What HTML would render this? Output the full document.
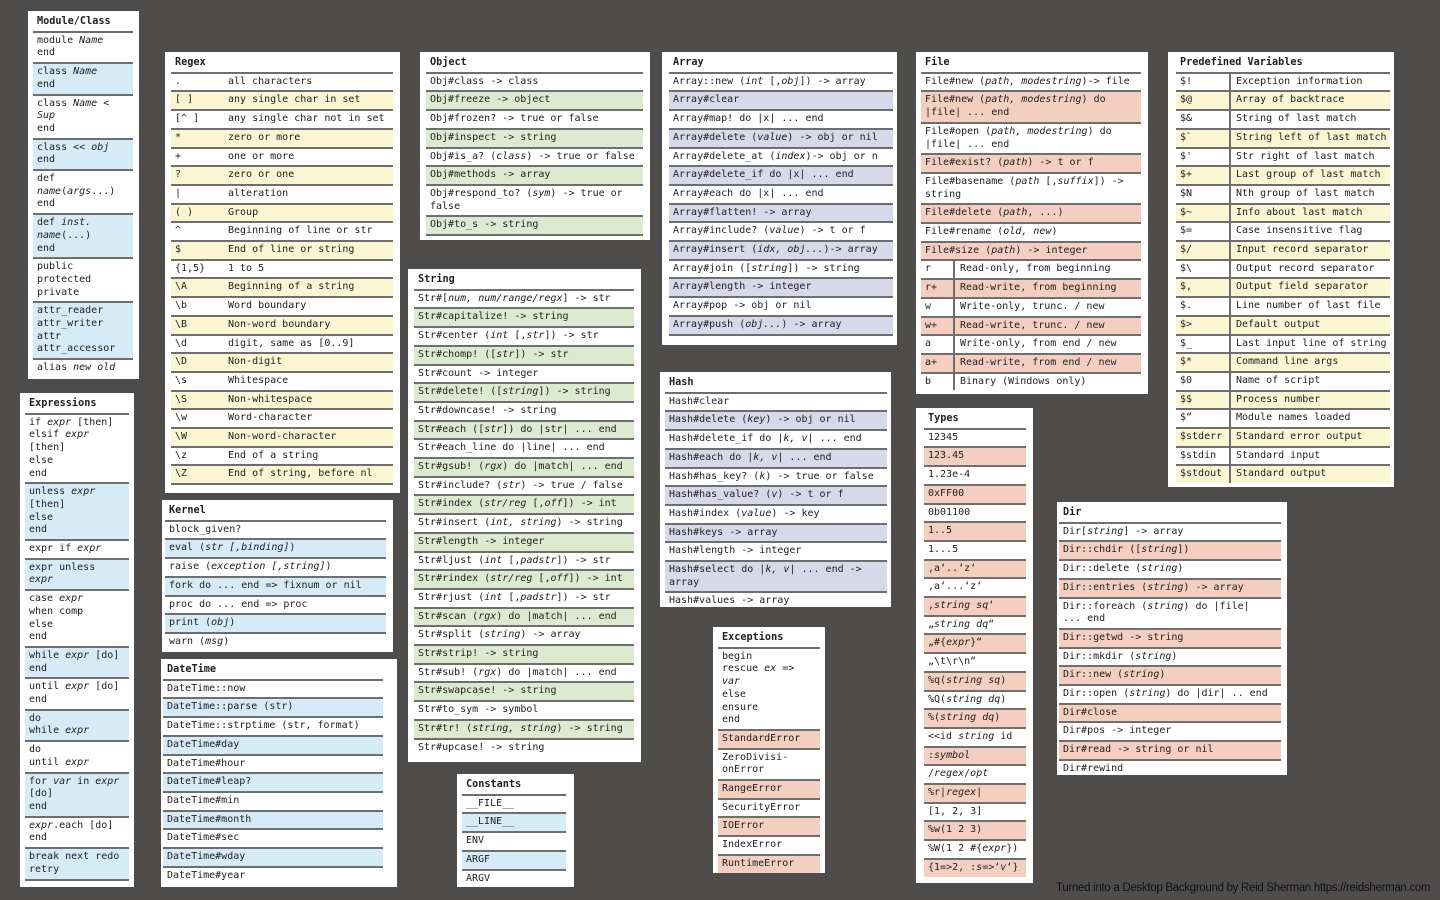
<!DOCTYPE html>
<html><head><meta charset="utf-8"><style>
*{box-sizing:border-box;margin:0;padding:0}
body{width:1440px;height:900px;background:#4f4c4c;position:relative;overflow:hidden;font-family:"DejaVu Sans Mono","Liberation Mono",monospace;font-size:10px;color:#1e1e1e}
.box{position:absolute;background:#fff;padding:0 7px 0 6px;overflow:hidden}
.h{font-weight:bold;padding:5px 4px 2px;line-height:12.7px;border-bottom:2px solid #6e6e6e;font-size:10.2px}
.r{padding:2px 4px 2px;line-height:12.7px;border-bottom:2px solid #6e6e6e;white-space:nowrap;overflow:hidden}
.b{background:#d5ecf8}.y{background:#fbf5d2}.g{background:#dcebd0}.l{background:#d7d8e9}.s{background:#f4cfbf}
.c{display:flex;padding:0}
.c span:first-child{flex:none;padding:2px 4px;border-right:2px solid #6e6e6e}
.c span:last-child{padding:2px 5px}
.nb{border-bottom:none}
.ex .r{line-height:12.7px}
#foot{position:absolute;left:1056px;top:882px;font-family:"Liberation Sans",sans-serif;font-size:11.5px;color:#111;letter-spacing:-0.3px;white-space:nowrap}
</style></head><body>

<div class="box" style="left:28px;top:11px;width:111px;height:368px;padding:0 6px 0 5px">
<div class="h">Module/Class</div>
<div class="r">module <i>Name</i><br>end</div>
<div class="r b">class <i>Name</i><br>end</div>
<div class="r">class <i>Name</i> &lt;<br><i>Sup</i><br>end</div>
<div class="r b">class &lt;&lt; <i>obj</i><br>end</div>
<div class="r">def<br><i>name</i>(<i>args</i>...)<br>end</div>
<div class="r b">def <i>inst.</i><br><i>name</i>(...)<br>end</div>
<div class="r">public<br>protected<br>private</div>
<div class="r b">attr_reader<br>attr_writer<br>attr<br>attr_accessor</div>
<div class="r nb">alias <i>new old</i></div>
</div>

<div class="box ex" style="left:20px;top:393px;width:114px;height:494px;padding:0 5px 0 5px">
<div class="h">Expressions</div>
<div class="r">if <i>expr</i> [then]<br>elsif <i>expr</i><br>[then]<br>else<br>end</div>
<div class="r b">unless <i>expr</i><br>[then]<br>else<br>end</div>
<div class="r">expr if <i>expr</i></div>
<div class="r b">expr unless<br><i>expr</i></div>
<div class="r">case <i>expr</i><br>when comp<br>else<br>end</div>
<div class="r b">while <i>expr</i> [do]<br>end</div>
<div class="r">until <i>expr</i> [do]<br>end</div>
<div class="r b">do<br>while <i>expr</i></div>
<div class="r">do<br>until <i>expr</i></div>
<div class="r b">for <i>var</i> in <i>expr</i><br>[do]<br>end</div>
<div class="r"><i>expr</i>.each [do]<br>end</div>
<div class="r b">break next redo<br>retry</div>
</div>

<div class="box" style="left:165px;top:52px;width:235px;height:441px">
<div class="h">Regex</div>
<div class="r c"><span style="width:52px;border:none">.</span><span>all characters</span></div>
<div class="r c y"><span style="width:52px;border:none">[ ]</span><span>any single char in set</span></div>
<div class="r c"><span style="width:52px;border:none">[^ ]</span><span>any single char not in set</span></div>
<div class="r c y"><span style="width:52px;border:none">*</span><span>zero or more</span></div>
<div class="r c"><span style="width:52px;border:none">+</span><span>one or more</span></div>
<div class="r c y"><span style="width:52px;border:none">?</span><span>zero or one</span></div>
<div class="r c"><span style="width:52px;border:none">|</span><span>alteration</span></div>
<div class="r c y"><span style="width:52px;border:none">( )</span><span>Group</span></div>
<div class="r c"><span style="width:52px;border:none">^</span><span>Beginning of line or str</span></div>
<div class="r c y"><span style="width:52px;border:none">$</span><span>End of line or string</span></div>
<div class="r c"><span style="width:52px;border:none">{1,5}</span><span>1 to 5</span></div>
<div class="r c y"><span style="width:52px;border:none">\A</span><span>Beginning of a string</span></div>
<div class="r c"><span style="width:52px;border:none">\b</span><span>Word boundary</span></div>
<div class="r c y"><span style="width:52px;border:none">\B</span><span>Non-word boundary</span></div>
<div class="r c"><span style="width:52px;border:none">\d</span><span>digit, same as [0..9]</span></div>
<div class="r c y"><span style="width:52px;border:none">\D</span><span>Non-digit</span></div>
<div class="r c"><span style="width:52px;border:none">\s</span><span>Whitespace</span></div>
<div class="r c y"><span style="width:52px;border:none">\S</span><span>Non-whitespace</span></div>
<div class="r c"><span style="width:52px;border:none">\w</span><span>Word-character</span></div>
<div class="r c y"><span style="width:52px;border:none">\W</span><span>Non-word-character</span></div>
<div class="r c"><span style="width:52px;border:none">\z</span><span>End of a string</span></div>
<div class="r c y"><span style="width:52px;border:none">\Z</span><span>End of string, before nl</span></div>
</div>

<div class="box" style="left:162px;top:500px;width:231px;height:152px;padding:0 7px 0 3px">
<div class="h">Kernel</div>
<div class="r">block_given?</div>
<div class="r b">eval (<i>str [,binding]</i>)</div>
<div class="r">raise (<i>exception [,string]</i>)</div>
<div class="r b">fork do ... end =&gt; fixnum or nil</div>
<div class="r">proc do ... end =&gt; proc</div>
<div class="r b">print (<i>obj</i>)</div>
<div class="r nb">warn (<i>msg</i>)</div>
</div>

<div class="box" style="left:161px;top:659px;width:236px;height:228px;padding:0 14px 0 2px">
<div class="h">DateTime</div>
<div class="r">DateTime::now</div>
<div class="r b">DateTime::parse (str)</div>
<div class="r">DateTime::strptime (str, format)</div>
<div class="r b">DateTime#day</div>
<div class="r">DateTime#hour</div>
<div class="r b">DateTime#leap?</div>
<div class="r">DateTime#min</div>
<div class="r b">DateTime#month</div>
<div class="r">DateTime#sec</div>
<div class="r b">DateTime#wday</div>
<div class="r nb">DateTime#year</div>
</div>

<div class="box" style="left:420px;top:52px;width:230px;height:188px">
<div class="h">Object</div>
<div class="r">Obj#class -&gt; class</div>
<div class="r g">Obj#freeze -&gt; object</div>
<div class="r">Obj#frozen? -&gt; true or false</div>
<div class="r g">Obj#inspect -&gt; string</div>
<div class="r">Obj#is_a? (<i>class</i>) -&gt; true or false</div>
<div class="r g">Obj#methods -&gt; array</div>
<div class="r">Obj#respond_to? (<i>sym</i>) -&gt; true or<br>false</div>
<div class="r g">Obj#to_s -&gt; string</div>
</div>

<div class="box" style="left:408px;top:269px;width:233px;height:493px">
<div class="h">String</div>
<div class="r">Str#[<i>num, num/range/regx</i>] -&gt; str</div>
<div class="r g">Str#capitalize! -&gt; string</div>
<div class="r">Str#center (<i>int</i> [,<i>str</i>]) -&gt; str</div>
<div class="r g">Str#chomp! ([<i>str</i>]) -&gt; str</div>
<div class="r">Str#count -&gt; integer</div>
<div class="r g">Str#delete! ([<i>string</i>]) -&gt; string</div>
<div class="r">Str#downcase! -&gt; string</div>
<div class="r g">Str#each ([<i>str</i>]) do |str| ... end</div>
<div class="r">Str#each_line do |line| ... end</div>
<div class="r g">Str#gsub! (<i>rgx</i>) do |match| ... end</div>
<div class="r">Str#include? (<i>str</i>) -&gt; true / false</div>
<div class="r g">Str#index (<i>str/reg</i> [,<i>off</i>]) -&gt; int</div>
<div class="r">Str#insert (<i>int, string</i>) -&gt; string</div>
<div class="r g">Str#length -&gt; integer</div>
<div class="r">Str#ljust (<i>int</i> [,<i>padstr</i>]) -&gt; str</div>
<div class="r g">Str#rindex (<i>str/reg</i> [,<i>off</i>]) -&gt; int</div>
<div class="r">Str#rjust (<i>int</i> [,<i>padstr</i>]) -&gt; str</div>
<div class="r g">Str#scan (<i>rgx</i>) do |match| ... end</div>
<div class="r">Str#split (<i>string</i>) -&gt; array</div>
<div class="r g">Str#strip! -&gt; string</div>
<div class="r">Str#sub! (<i>rgx</i>) do |match| ... end</div>
<div class="r g">Str#swapcase! -&gt; string</div>
<div class="r">Str#to_sym -&gt; symbol</div>
<div class="r g">Str#tr! (<i>string, string</i>) -&gt; string</div>
<div class="r nb">Str#upcase! -&gt; string</div>
</div>

<div class="box" style="left:457px;top:774px;width:117px;height:113px;padding:0 8px 0 5px">
<div class="h">Constants</div>
<div class="r">__FILE__</div>
<div class="r b">__LINE__</div>
<div class="r">ENV</div>
<div class="r b">ARGF</div>
<div class="r nb">ARGV</div>
</div>

<div class="box" style="left:662px;top:52px;width:235px;height:293px;padding:0 4px 0 7px">
<div class="h">Array</div>
<div class="r">Array::new (<i>int</i> [,<i>obj</i>]) -&gt; array</div>
<div class="r l">Array#clear</div>
<div class="r">Array#map! do |x| ... end</div>
<div class="r l">Array#delete (<i>value</i>) -&gt; obj or nil</div>
<div class="r">Array#delete_at (<i>index</i>)-&gt; obj or n</div>
<div class="r l">Array#delete_if do |x| ... end</div>
<div class="r">Array#each do |x| ... end</div>
<div class="r l">Array#flatten! -&gt; array</div>
<div class="r">Array#include? (<i>value</i>) -&gt; t or f</div>
<div class="r l">Array#insert (<i>idx, obj...</i>)-&gt; array</div>
<div class="r">Array#join ([<i>string</i>]) -&gt; string</div>
<div class="r l">Array#length -&gt; integer</div>
<div class="r">Array#pop -&gt; obj or nil</div>
<div class="r l">Array#push (<i>obj...</i>) -&gt; array</div>
</div>

<div class="box" style="left:660px;top:372px;width:231px;height:235px;padding:0 4px 0 5px">
<div class="h">Hash</div>
<div class="r">Hash#clear</div>
<div class="r l">Hash#delete (<i>key</i>) -&gt; obj or nil</div>
<div class="r">Hash#delete_if do |<i>k, v</i>| ... end</div>
<div class="r l">Hash#each do |<i>k, v</i>| ... end</div>
<div class="r">Hash#has_key? (<i>k</i>) -&gt; true or false</div>
<div class="r l">Hash#has_value? (<i>v</i>) -&gt; t or f</div>
<div class="r">Hash#index (<i>value</i>) -&gt; key</div>
<div class="r l">Hash#keys -&gt; array</div>
<div class="r">Hash#length -&gt; integer</div>
<div class="r l">Hash#select do |<i>k, v</i>| ... end -&gt;<br>array</div>
<div class="r nb">Hash#values -&gt; array</div>
</div>

<div class="box" style="left:713px;top:627px;width:112px;height:246px;padding:0 5px 0 5px">
<div class="h">Exceptions</div>
<div class="r">begin<br>rescue <i>ex</i> =&gt;<br><i>var</i><br>else<br>ensure<br>end</div>
<div class="r s">StandardError</div>
<div class="r">ZeroDivisi-<br>onError</div>
<div class="r s">RangeError</div>
<div class="r">SecurityError</div>
<div class="r s">IOError</div>
<div class="r">IndexError</div>
<div class="r s nb">RuntimeError</div>
</div>

<div class="box" style="left:916px;top:52px;width:232px;height:342px;padding:0 7px 0 5px">
<div class="h">File</div>
<div class="r">File#new (<i>path, modestring</i>)-&gt; file</div>
<div class="r s">File#new (<i>path, modestring</i>) do<br>|file| ... end</div>
<div class="r">File#open (<i>path, modestring</i>) do<br>|file| ... end</div>
<div class="r s">File#exist? (<i>path</i>) -&gt; t or f</div>
<div class="r">File#basename (<i>path</i> [,<i>suffix</i>]) -&gt;<br>string</div>
<div class="r s">File#delete (<i>path</i>, ...)</div>
<div class="r">File#rename (<i>old, new</i>)</div>
<div class="r s">File#size (<i>path</i>) -&gt; integer</div>
<div class="r c"><span style="width:34px">r</span><span>Read-only, from beginning</span></div>
<div class="r c s"><span style="width:34px">r+</span><span>Read-write, from beginning</span></div>
<div class="r c"><span style="width:34px">w</span><span>Write-only, trunc. / new</span></div>
<div class="r c s"><span style="width:34px">w+</span><span>Read-write, trunc. / new</span></div>
<div class="r c"><span style="width:34px">a</span><span>Write-only, from end / new</span></div>
<div class="r c s"><span style="width:34px">a+</span><span>Read-write, from end / new</span></div>
<div class="r c nb"><span style="width:34px">b</span><span>Binary (Windows only)</span></div>
</div>

<div class="box" style="left:1168px;top:52px;width:226px;height:435px;padding:0 4px 0 8px">
<div class="h">Predefined Variables</div>
<div class="r c"><span style="width:55px">$!</span><span>Exception information</span></div>
<div class="r c y"><span style="width:55px">$@</span><span>Array of backtrace</span></div>
<div class="r c"><span style="width:55px">$&amp;</span><span>String of last match</span></div>
<div class="r c y"><span style="width:55px">$`</span><span>String left of last match</span></div>
<div class="r c"><span style="width:55px">$'</span><span>Str right of last match</span></div>
<div class="r c y"><span style="width:55px">$+</span><span>Last group of last match</span></div>
<div class="r c"><span style="width:55px">$N</span><span>Nth group of last match</span></div>
<div class="r c y"><span style="width:55px">$~</span><span>Info about last match</span></div>
<div class="r c"><span style="width:55px">$=</span><span>Case insensitive flag</span></div>
<div class="r c y"><span style="width:55px">$/</span><span>Input record separator</span></div>
<div class="r c"><span style="width:55px">$\</span><span>Output record separator</span></div>
<div class="r c y"><span style="width:55px">$,</span><span>Output field separator</span></div>
<div class="r c"><span style="width:55px">$.</span><span>Line number of last file</span></div>
<div class="r c y"><span style="width:55px">$&gt;</span><span>Default output</span></div>
<div class="r c"><span style="width:55px">$_</span><span>Last input line of string</span></div>
<div class="r c y"><span style="width:55px">$*</span><span>Command line args</span></div>
<div class="r c"><span style="width:55px">$0</span><span>Name of script</span></div>
<div class="r c y"><span style="width:55px">$$</span><span>Process number</span></div>
<div class="r c"><span style="width:55px">$“</span><span>Module names loaded</span></div>
<div class="r c y"><span style="width:55px">$stderr</span><span>Standard error output</span></div>
<div class="r c"><span style="width:55px">$stdin</span><span>Standard input</span></div>
<div class="r c y nb"><span style="width:55px">$stdout</span><span>Standard output</span></div>
</div>

<div class="box" style="left:916px;top:408px;width:117px;height:475px;padding:0 7px 0 8px">
<div class="h">Types</div>
<div class="r">12345</div>
<div class="r s">123.45</div>
<div class="r">1.23e-4</div>
<div class="r s">0xFF00</div>
<div class="r">0b01100</div>
<div class="r s">1..5</div>
<div class="r">1...5</div>
<div class="r s">‚a‘..‘z‘</div>
<div class="r">‚a‘...‘z‘</div>
<div class="r s">‚<i>string sq</i>‘</div>
<div class="r">„<i>string dq</i>“</div>
<div class="r s">„#{<i>expr</i>}“</div>
<div class="r">„\t\r\n“</div>
<div class="r s">%q(<i>string sq</i>)</div>
<div class="r">%Q(<i>string dq</i>)</div>
<div class="r s">%(<i>string dq</i>)</div>
<div class="r">&lt;&lt;id <i>string</i> id</div>
<div class="r s">:<i>symbol</i></div>
<div class="r">/<i>regex</i>/<i>opt</i></div>
<div class="r s">%r|<i>regex</i>|</div>
<div class="r">[1, 2, 3]</div>
<div class="r s">%w(1 2 3)</div>
<div class="r">%W(1 2 #{<i>expr</i>})</div>
<div class="r s nb">{1=&gt;2, :<i>s</i>=&gt;‘<i>v</i>‘}</div>
</div>

<div class="box" style="left:1057px;top:502px;width:230px;height:273px;padding:0 6px 0 2px">
<div class="h">Dir</div>
<div class="r">Dir[<i>string</i>] -&gt; array</div>
<div class="r s">Dir::chdir ([<i>string</i>])</div>
<div class="r">Dir::delete (<i>string</i>)</div>
<div class="r s">Dir::entries (<i>string</i>) -&gt; array</div>
<div class="r">Dir::foreach (<i>string</i>) do |file|<br>... end</div>
<div class="r s">Dir::getwd -&gt; string</div>
<div class="r">Dir::mkdir (<i>string</i>)</div>
<div class="r s">Dir::new (<i>string</i>)</div>
<div class="r">Dir::open (<i>string</i>) do |dir| .. end</div>
<div class="r s">Dir#close</div>
<div class="r">Dir#pos -&gt; integer</div>
<div class="r s">Dir#read -&gt; string or nil</div>
<div class="r nb">Dir#rewind</div>
</div>

<div id="foot">Turned into a Desktop Background by Reid Sherman https://reidsherman.com</div>
</body></html>
